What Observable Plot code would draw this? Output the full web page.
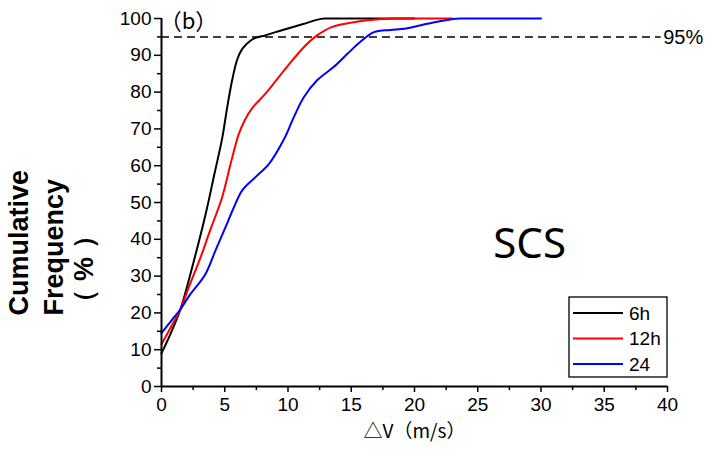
<!DOCTYPE html>
<html><head><meta charset="utf-8">
<script src="https://cdn.jsdelivr.net/npm/d3@7"></script>
<script src="https://cdn.jsdelivr.net/npm/@observablehq/plot@0.6"></script>
<style>body{margin:0;background:#fff}</style>
</head><body><div id="chart"></div>
<script>
const series = ["6h", "12h", "24"];
const colors = ["#000000", "#ff0000", "#0000ff"];

const v6 = [0, 0.8, 1.5, 2.55, 3.5, 4.2, 4.8, 5.2, 5.6, 6, 6.4, 7, 7.5, 8.2, 9, 10, 11.2, 12.6, 13.1, 16, 20];
const p6 = [9, 15, 21, 34, 47, 58, 67.5, 76, 83.5, 89, 91.8, 93.9, 94.8, 95.4, 96.3, 97.3, 98.5, 99.9, 100, 100, 100];

const v12 = [0, 0.8, 1.5, 2.16, 3.08, 3.8, 4.8, 5.5, 6.1, 6.6, 7.2, 8.2, 9.9, 11.25, 12.3, 13.4, 15.2, 16.5, 18, 18.8, 23];
const p12 = [11.5, 16.5, 21, 27, 35, 42, 51.5, 61, 68.5, 72.5, 75.8, 79.5, 86.8, 92.2, 95.4, 97.6, 99, 99.6, 99.95, 100, 100];

const v24 = [0, 0.8, 1.5, 2.16, 3.48, 4.27, 5.06, 5.7, 6.38, 7.43, 8.5, 9.7, 10.46, 11.25, 12.3, 13.6, 14.7, 15.7, 16.8, 18.1, 19.2, 20.4, 21.5, 22.6, 23.3, 23.9, 30];
const p24 = [14.5, 18, 21, 24.5, 30.6, 37, 43.3, 48.5, 53.3, 56.9, 60.5, 67.3, 73.2, 78.6, 83.2, 86.8, 90.4, 93.6, 96.3, 96.9, 97.2, 98.1, 98.9, 99.6, 99.95, 100, 100];

const xMajor = [0, 5, 10, 15, 20, 25, 30, 35, 40];
const xMinor = [2.5, 7.5, 12.5, 17.5, 22.5, 27.5, 32.5, 37.5];
const yMajor = [0, 10, 20, 30, 40, 50, 60, 70, 80, 90, 100];
const yMinor = [5, 15, 25, 35, 45, 55, 65, 75, 85, 95];

const refLevel = 95;
const refEnd = 39.5;
const refLabel = "95%";
const panelLabel = "（b）";
const regionLabel = "SCS";
const regionX = 29.1;
const regionY = 38.5;
const xLabel = "△V（m/s）";
const yLabelLines = ["Cumulative", "Frequency", "（ % ）"];

const xs = [v6, v12, v24];
const ps = [p6, p12, p24];
const rows = series.flatMap((s, i) => xs[i].map((v, j) => ({s, v, p: ps[i][j]})));

function legendMark(index, scales, values, dims) {
  const right = dims.width - dims.marginRight;
  const bottom = dims.height - dims.marginBottom;
  const bw = 98, bh = 80;
  const bx = right - bw, by = bottom - 9 - bh;
  const g = d3.create("svg:g");
  g.append("rect").attr("x", bx).attr("y", by).attr("width", bw).attr("height", bh)
    .attr("fill", "white").attr("stroke", "black").attr("stroke-width", 1.3);
  series.forEach((s, i) => {
    const y = by + 16 + i * 25.5;
    g.append("line").attr("x1", bx + 4).attr("x2", bx + 54).attr("y1", y).attr("y2", y)
      .attr("stroke", scales.color(s)).attr("stroke-width", 2);
    g.append("text").attr("x", bx + 60).attr("y", y).attr("dy", "0.35em")
      .attr("text-anchor", "start").attr("font-size", 19).attr("fill", "black").text(s);
  });
  return g.node();
}

const chart = Plot.plot({
  width: 708, height: 451,
  marginLeft: 161, marginRight: 41, marginTop: 18, marginBottom: 65,
  style: {fontFamily: "'Liberation Sans', Arial, sans-serif", fontSize: "19px", color: "#000", background: "#fff"},
  x: {domain: [0, 40], label: null},
  y: {domain: [0, 100], label: null},
  color: {domain: series, range: colors},
  marks: [
    Plot.axisY(yMajor, {tickSize: 7, tickPadding: 3, fontSize: 19, strokeWidth: 1.5, label: null}),
    Plot.axisY(yMinor, {tickSize: 4, tickFormat: () => "", strokeWidth: 1.5, label: null}),
    Plot.axisX(xMajor, {tickSize: 6, tickPadding: 5, fontSize: 19, strokeWidth: 1.5, label: null}),
    Plot.axisX(xMinor, {tickSize: 4, tickFormat: () => "", strokeWidth: 1.5, label: null}),
    Plot.ruleY([refLevel], {x1: 0, x2: refEnd, stroke: "black", strokeWidth: 1.5, strokeDasharray: "8,5"}),
    Plot.text([refLabel], {x: refEnd, y: refLevel, textAnchor: "start", dx: 2, dy: 1, fontSize: 20}),
    Plot.line(rows, {x: "v", y: "p", z: "s", stroke: "s", curve: "catmull-rom", strokeWidth: 2}),
    Plot.ruleX([0], {stroke: "black", strokeWidth: 2}),
    Plot.ruleY([0], {stroke: "black", strokeWidth: 2}),
    Plot.text([panelLabel], {frameAnchor: "top-left", dx: 27, dy: 3, textAnchor: "middle", lineAnchor: "middle", fontSize: 22, fontFamily: "'Noto Sans CJK SC', sans-serif"}),
    Plot.text([regionLabel], {x: regionX, y: regionY, fontSize: 42, fontFamily: "'Noto Sans', sans-serif"}),
    Plot.text([xLabel], {frameAnchor: "bottom", dy: 51, fontSize: 19, fontFamily: "'Noto Sans CJK SC', sans-serif"}),
    ...yLabelLines.map((t, i) => Plot.text([t], {
      frameAnchor: "bottom-left", dx: [-134, -99, -69][i], dy: -71, rotate: -90,
      textAnchor: "start", fontWeight: "bold", fontSize: 27
    })),
    legendMark
  ]
});
document.getElementById("chart").append(chart);
</script>
</body></html>
